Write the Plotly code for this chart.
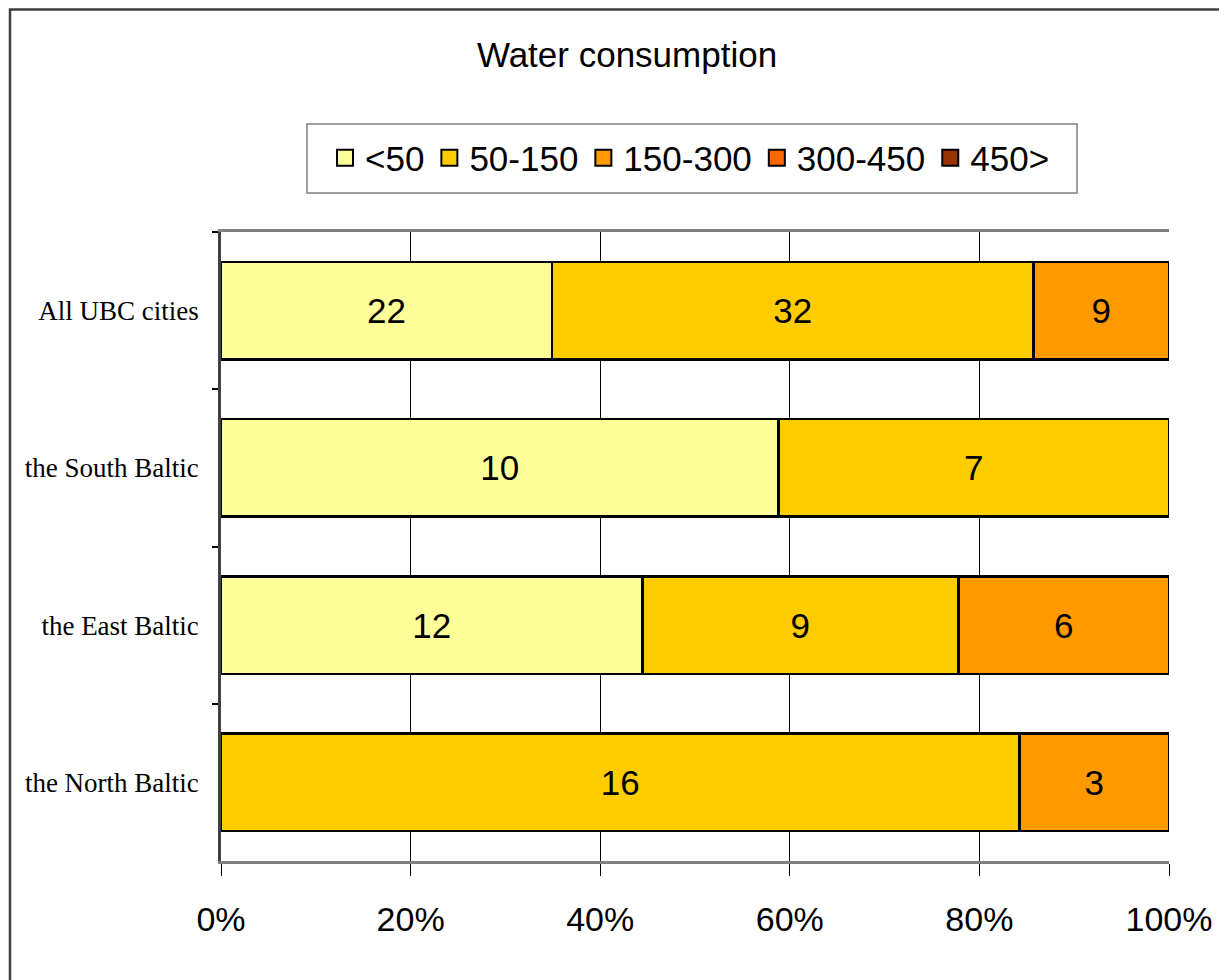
import plotly.graph_objects as go

categories = ["All UBC cities", "the South Baltic", "the East Baltic", "the North Baltic"]
series_names = ["<50", "50-150", "150-300", "300-450", "450>"]
series_colors = ["#FFFF99", "#FFCC00", "#FF9900", "#FF6600", "#993300"]
v_lt50 = [22, 10, 12, None]
v_50_150 = [32, 7, 9, 16]
v_150_300 = [9, None, 6, 3]
v_300_450 = [None, None, None, None]
v_450 = [None, None, None, None]
series_values = [v_lt50, v_50_150, v_150_300, v_300_450, v_450]
x_ticks = [0, 20, 40, 60, 80, 100]
x_tick_labels = ["0%", "20%", "40%", "60%", "80%", "100%"]

SANS = "Liberation Sans, Arial, sans-serif"
SERIF = "Liberation Serif, Times New Roman, serif"

OFF = 8  # page body margin
W, H = 1227 - OFF, 980 - OFF
L, R, T, B = 221 - OFF, 1169 - OFF, 232 - OFF, 861 - OFF
pw, ph = R - L, B - T

def px_x(x):
    return (x - OFF - L) / pw

def px_y(y):
    return (B - (y - OFF)) / ph

fig = go.Figure()
for name, color, vals in zip(series_names, series_colors, series_values):
    fig.add_trace(go.Bar(
        y=categories, x=vals, orientation="h", name=name,
        marker=dict(color=color, line=dict(color="black", width=2.5)),
        text=[("" if v is None else str(v)) for v in vals],
        textposition="inside", insidetextanchor="middle", textangle=0,
        textfont=dict(family=SANS, size=35, color="black"),
        showlegend=False, hoverinfo="skip",
    ))
    fig.add_trace(go.Scatter(
        x=[None], y=[None], mode="markers", name=name,
        marker=dict(symbol="square", size=16, color=color, line=dict(color="black", width=2)),
        showlegend=True,
    ))

shapes = [
    dict(type="rect", xref="paper", yref="paper",
         x0=px_x(307), x1=px_x(1077), y0=px_y(193), y1=px_y(124),
         line=dict(color="#808080", width=1.5), fillcolor="rgba(0,0,0,0)", layer="below"),
    dict(type="rect", xref="paper", yref="paper",
         x0=px_x(10), x1=px_x(1300), y0=px_y(1100), y1=px_y(9.5),
         line=dict(color="#404040", width=2.5), fillcolor="rgba(0,0,0,0)", layer="below"),
]

fig.update_layout(
    width=W, height=H,
    margin=dict(l=L, r=W - R, t=T, b=H - B),
    paper_bgcolor="white", plot_bgcolor="white",
    barmode="stack", barnorm="percent", bargap=0.38,
    title=dict(text="Water consumption", x=px_x(627), xref="paper", xanchor="center",
               y=1 - (55 - OFF) / H, yref="container", yanchor="middle",
               font=dict(family=SANS, size=35, color="black")),
    legend=dict(orientation="h", x=px_x(690), xanchor="center", y=px_y(158), yanchor="middle",
                font=dict(family=SANS, size=35, color="black"), bgcolor="rgba(0,0,0,0)",
                borderwidth=0, itemclick=False, traceorder="normal"),
    shapes=shapes,
    showlegend=True,
)

fig.update_xaxes(
    range=[0, 100], tickvals=x_ticks, ticktext=x_tick_labels,
    showgrid=True, gridcolor="black", gridwidth=1,
    showline=True, linecolor="#808080", linewidth=2.5, mirror=True,
    ticks="outside", ticklen=12, tickcolor="black", tickwidth=1,
    tickfont=dict(family=SANS, size=34, color="black"),
    ticklabelstandoff=14, zeroline=False, fixedrange=True,
)
fig.update_yaxes(
    type="category", categoryorder="array", categoryarray=categories, autorange="reversed",
    showgrid=False, showline=True, linecolor="#404040", linewidth=2.5,
    ticks="outside", tickson="boundaries", ticklen=6, tickcolor="black", tickwidth=1.5,
    tickfont=dict(family=SERIF, size=27, color="black"),
    ticklabelstandoff=14, fixedrange=True,
)

fig.write_html("out.html")
